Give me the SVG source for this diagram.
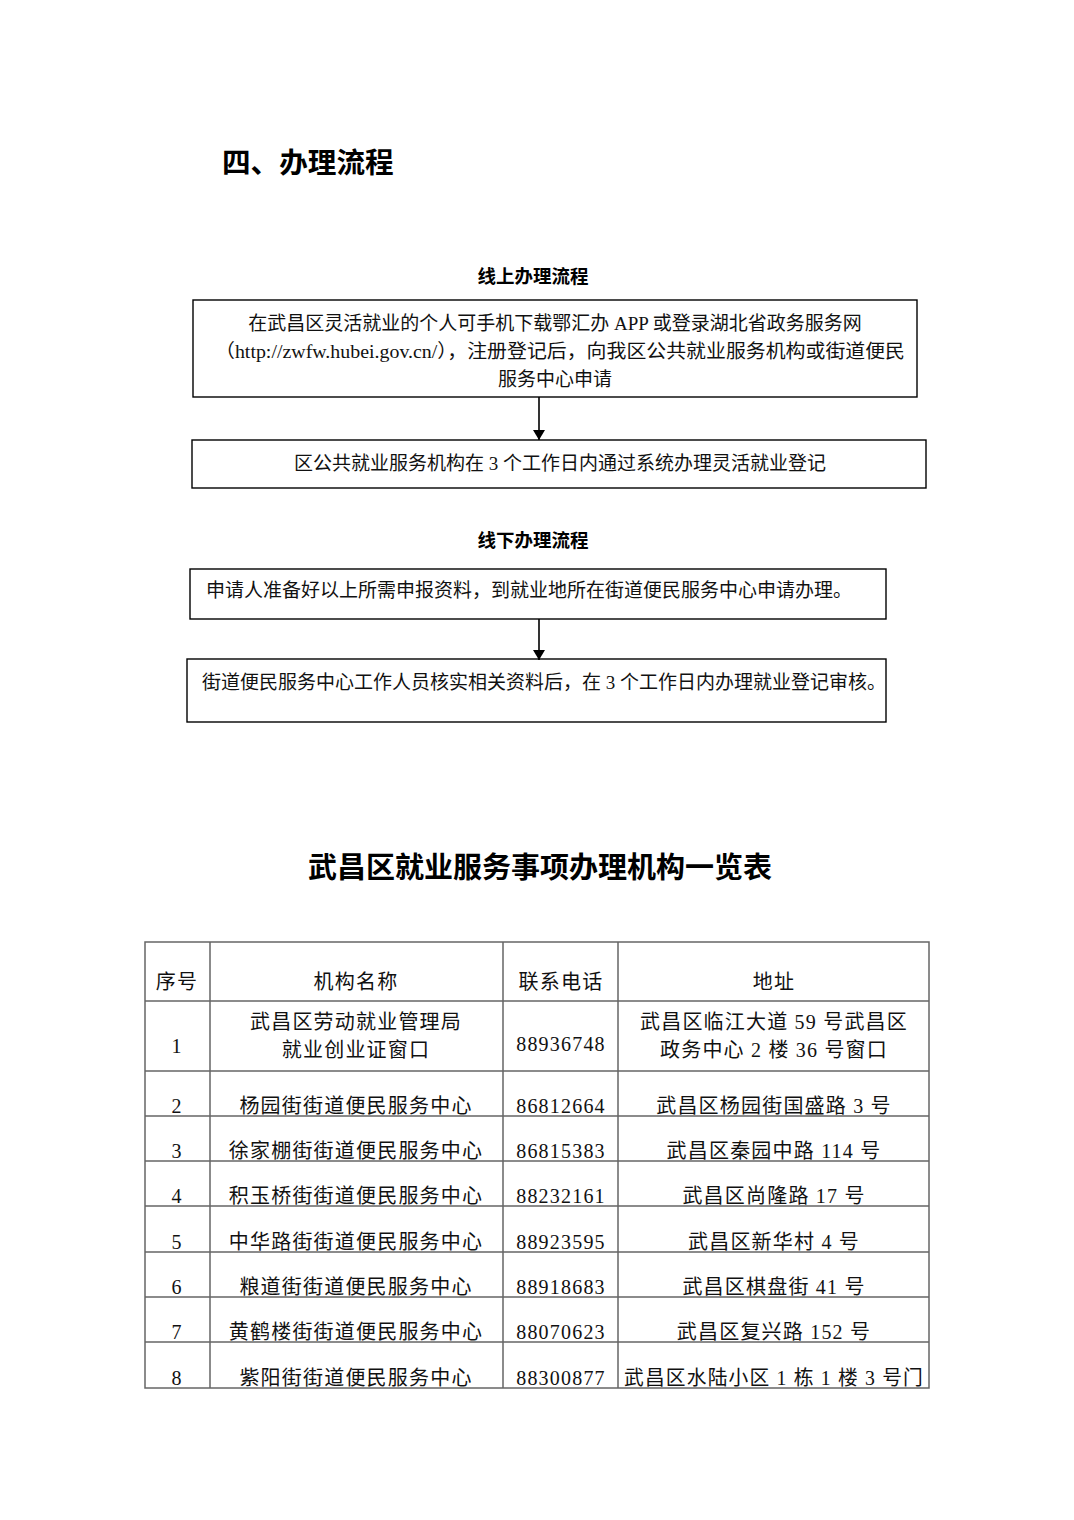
<svg xmlns="http://www.w3.org/2000/svg" width="1074" height="1520" viewBox="0 0 1074 1520">
<defs>
<style>
.t{font-family:"Liberation Serif","Noto Sans CJK SC",serif;fill:#111}
.f{font-size:19px}
.h{font-family:"Liberation Sans","Noto Sans CJK SC",sans-serif;font-weight:bold;fill:#000}
.box{fill:none;stroke:#000;stroke-width:1.4}
.tb{stroke:#666;stroke-width:1.5;fill:none}
.c{font-size:20px;letter-spacing:1.2px;text-anchor:middle}
.con{stroke:#000;stroke-width:1.6;fill:none}
</style>
<marker id="ah" viewBox="0 0 10 12" refX="10" refY="6" markerWidth="10" markerHeight="12" markerUnits="userSpaceOnUse" orient="auto">
<path d="M0,0 L10,6 L0,12 Z" fill="#000"/>
</marker>
</defs>
<rect width="1074" height="1520" fill="#fff"/>

<text class="h" x="222" y="173" font-size="28.6">四、办理流程</text>
<text class="h" x="533" y="283" font-size="18.5" text-anchor="middle">线上办理流程</text>
<text class="h" x="533" y="547" font-size="18.5" text-anchor="middle">线下办理流程</text>

<g id="n1">
<rect class="box" x="193" y="300" width="724" height="97"/>
<text class="t f" x="555" y="330" text-anchor="middle">在武昌区灵活就业的个人可手机下载鄂汇办 APP 或登录湖北省政务服务网</text>
<text class="t f" x="560" y="358" text-anchor="middle" textLength="690" lengthAdjust="spacingAndGlyphs">（http://zwfw.hubei.gov.cn/），注册登记后，向我区公共就业服务机构或街道便民</text>
<text class="t f" x="555" y="386" text-anchor="middle">服务中心申请</text>
</g>
<g id="n2">
<rect class="box" x="192" y="440" width="734" height="48"/>
<text class="t f" x="560" y="470" text-anchor="middle">区公共就业服务机构在 3 个工作日内通过系统办理灵活就业登记</text>
</g>
<g id="n3">
<rect class="box" x="190" y="569" width="696" height="50"/>
<text class="t f" x="206" y="597">申请人准备好以上所需申报资料，到就业地所在街道便民服务中心申请办理。</text>
</g>
<g id="n4">
<rect class="box" x="187" y="659" width="699" height="63"/>
<text class="t f" x="202" y="689">街道便民服务中心工作人员核实相关资料后，在 3 个工作日内办理就业登记审核。</text>
</g>
<g id="connectors">
<line class="con" x1="539" y1="397" x2="539" y2="440" marker-end="url(#ah)"/>
<line class="con" x1="539" y1="619" x2="539" y2="660" marker-end="url(#ah)"/>
</g>

<text class="h" x="540" y="878" font-size="29" text-anchor="middle">武昌区就业服务事项办理机构一览表</text>

<g id="table">
<rect class="tb" x="145" y="942" width="784" height="446"/>
<path class="tb" d="M210,942V1388M503,942V1388M618,942V1388M145,1001H929M145,1071H929M145,1116H929M145,1161H929M145,1206H929M145,1252H929M145,1297H929M145,1342H929"/>
<g class="t c">
<text x="177" y="989">序号</text>
<text x="356" y="989">机构名称</text>
<text x="561" y="989">联系电话</text>
<text x="774" y="989">地址</text>

<text x="177" y="1053">1</text>
<text x="356" y="1029">武昌区劳动就业管理局</text>
<text x="356" y="1057">就业创业证窗口</text>
<text x="561" y="1051">88936748</text>
<text x="774" y="1029">武昌区临江大道 59 号武昌区</text>
<text x="774" y="1057">政务中心 2 楼 36 号窗口</text>

<text x="177" y="1113">2</text>
<text x="356" y="1113">杨园街街道便民服务中心</text>
<text x="561" y="1113">86812664</text>
<text x="774" y="1113">武昌区杨园街国盛路 3 号</text>

<text x="177" y="1158">3</text>
<text x="356" y="1158">徐家棚街街道便民服务中心</text>
<text x="561" y="1158">86815383</text>
<text x="774" y="1158">武昌区秦园中路 114 号</text>

<text x="177" y="1203">4</text>
<text x="356" y="1203">积玉桥街街道便民服务中心</text>
<text x="561" y="1203">88232161</text>
<text x="774" y="1203">武昌区尚隆路 17 号</text>

<text x="177" y="1249">5</text>
<text x="356" y="1249">中华路街街道便民服务中心</text>
<text x="561" y="1249">88923595</text>
<text x="774" y="1249">武昌区新华村 4 号</text>

<text x="177" y="1294">6</text>
<text x="356" y="1294">粮道街街道便民服务中心</text>
<text x="561" y="1294">88918683</text>
<text x="774" y="1294">武昌区棋盘街 41 号</text>

<text x="177" y="1339">7</text>
<text x="356" y="1339">黄鹤楼街街道便民服务中心</text>
<text x="561" y="1339">88070623</text>
<text x="774" y="1339">武昌区复兴路 152 号</text>

<text x="177" y="1385">8</text>
<text x="356" y="1385">紫阳街街道便民服务中心</text>
<text x="561" y="1385">88300877</text>
<text x="774" y="1385" textLength="300" lengthAdjust="spacingAndGlyphs">武昌区水陆小区 1 栋 1 楼 3 号门</text>
</g>
</g>
</svg>
